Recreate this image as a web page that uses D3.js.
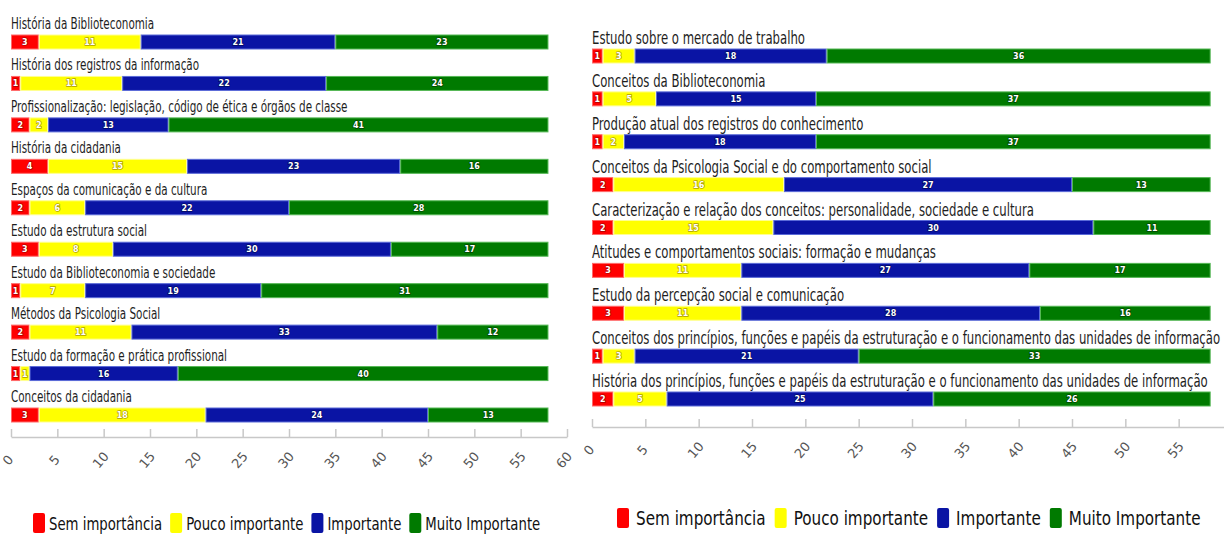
<!DOCTYPE html>
<html>
<head>
<meta charset="utf-8">
<script src="https://cdn.jsdelivr.net/npm/d3@7/dist/d3.min.js"></script>
<style>
  html, body { margin: 0; padding: 0; background: #ffffff; }
  svg { display: block; }
  .cat { font-family: "DejaVu Sans Condensed", "DejaVu Sans", sans-serif; font-stretch: condensed; fill: #1e1e1e; }
  .tick text { font-family: "DejaVu Sans", sans-serif; fill: #555; }
  .lbl { font-family: "DejaVu Sans", sans-serif; font-weight: bold; fill: #fff; paint-order: stroke; stroke-width: 1.4px; }
  .leg { font-family: "DejaVu Sans Condensed", "DejaVu Sans", sans-serif; font-stretch: condensed; fill: #111; }
</style>
</head>
<body>
<svg id="chart" width="1224" height="536"></svg>
<script>
// Series names and colours
const seriesNames = ["Sem importância", "Pouco importante", "Importante", "Muito Importante"];
const seriesColors = ["#ff0000", "#ffff00", "#0a14a4", "#007a00"];
const seriesEdges  = ["#ff6a6a", "#ffff90", "#5a6ad8", "#55b855"];
const seriesOutline = ["#b00000", "#b0a000", "#000a60", "#004400"];

// Left panel
const leftCategories = [
  "História da Biblioteconomia",
  "História dos registros da informação",
  "Profissionalização: legislação, código de ética e órgãos de classe",
  "História da cidadania",
  "Espaços da comunicação e da cultura",
  "Estudo da estrutura social",
  "Estudo da Biblioteconomia e sociedade",
  "Métodos da Psicologia Social",
  "Estudo da formação e prática profissional",
  "Conceitos da cidadania"
];
const leftSem   = [3, 1, 2, 4, 2, 3, 1, 2, 1, 3];
const leftPouco = [11, 11, 2, 15, 6, 8, 7, 11, 1, 18];
const leftImp   = [21, 22, 13, 23, 22, 30, 19, 33, 16, 24];
const leftMuito = [23, 24, 41, 16, 28, 17, 31, 12, 40, 13];
const leftTicks = [0, 5, 10, 15, 20, 25, 30, 35, 40, 45, 50, 55, 60];

// Right panel
const rightCategories = [
  "Estudo sobre o mercado de trabalho",
  "Conceitos da Biblioteconomia",
  "Produção atual dos registros do conhecimento",
  "Conceitos da Psicologia Social e do comportamento social",
  "Caracterização e relação dos conceitos: personalidade, sociedade e cultura",
  "Atitudes e comportamentos sociais: formação e mudanças",
  "Estudo da percepção social e comunicação",
  "Conceitos dos princípios, funções e papéis da estruturação e o funcionamento das unidades de informação",
  "História dos princípios, funções e papéis da estruturação e o funcionamento das unidades de informação"
];
const rightSem   = [1, 1, 1, 2, 2, 3, 3, 1, 2];
const rightPouco = [3, 5, 2, 16, 15, 11, 11, 3, 5];
const rightImp   = [18, 15, 18, 27, 30, 27, 28, 21, 25];
const rightMuito = [36, 37, 37, 13, 11, 17, 16, 33, 26];
const rightTicks = [0, 5, 10, 15, 20, 25, 30, 35, 40, 45, 50, 55];

const svg = d3.select("#chart");

function drawPanel(cfg) {
  const g = svg.append("g");
  const x = d3.scaleLinear().domain([0, 60]).range([cfg.x0, cfg.x1]);
  const y = d3.scalePoint().domain(cfg.categories).range([cfg.yTop, cfg.yBottom]);
  const barH = 14;

  const rows = cfg.categories.map((c, i) => ({
    cat: c,
    vals: [cfg.sem[i], cfg.pouco[i], cfg.imp[i], cfg.muito[i]]
  }));

  const stack = d3.stack().keys([0, 1, 2, 3]).value((d, k) => d.vals[k]);
  const layers = stack(rows);

  // category titles (condensed horizontally)
  g.selectAll("text.cat").data(rows).join("text")
    .attr("class", "cat")
    .attr("transform", d => `translate(${cfg.x0},${y(d.cat) - cfg.titleOffset}) scale(${cfg.titleSqueeze},1)`)
    .attr("font-size", cfg.titleSize)
    .text(d => d.cat);

  // stacked segments
  layers.forEach((layer, k) => {
    const lg = g.append("g");
    lg.selectAll("rect").data(layer).join("rect")
      .attr("x", d => x(d[0]) + 0.5)
      .attr("y", d => y(d.data.cat) - barH / 2)
      .attr("width", d => Math.max(0, x(d[1]) - x(d[0]) - 1))
      .attr("height", barH)
      .attr("fill", seriesColors[k])
      .attr("stroke", seriesEdges[k])
      .attr("stroke-width", 1);
    lg.selectAll("text").data(layer).join("text")
      .attr("class", "lbl")
      .attr("x", d => (x(d[0]) + x(d[1])) / 2)
      .attr("y", d => y(d.data.cat) + 3)
      .attr("text-anchor", "middle")
      .attr("font-size", 8)
      .attr("stroke", seriesOutline[k])
      .text(d => d[1] - d[0]);
  });

  // x axis
  const axis = d3.axisBottom(x).tickValues(cfg.ticks).tickSize(8).tickSizeOuter(0);
  const ax = g.append("g").attr("transform", `translate(0,${cfg.axisY})`).call(axis);
  ax.select(".domain").attr("stroke", "#c8c8c8").attr("stroke-width", 1.5);
  ax.selectAll(".tick line").attr("stroke", "#c8c8c8").attr("stroke-width", 1.5).attr("transform", "translate(0,-8)");
  ax.selectAll(".tick text")
    .attr("font-size", 13)
    .attr("text-anchor", "middle")
    .attr("y", 0)
    .attr("dy", 0)
    .attr("transform", "translate(0,26) rotate(-50)");

  // legend
  const leg = g.append("g").attr("transform", `translate(0,${cfg.legendY})`);
  let lx = cfg.legendX;
  seriesNames.forEach((name, k) => {
    leg.append("rect")
      .attr("x", lx).attr("y", -10)
      .attr("width", 12).attr("height", 20)
      .attr("rx", 2)
      .attr("fill", seriesColors[k]);
    const t = leg.append("text")
      .attr("class", "leg")
      .attr("transform", `translate(${lx + cfg.legendPad},7) scale(${cfg.legendSqueeze},1)`)
      .attr("font-size", cfg.legendSize)
      .text(name);
    lx += cfg.legendPad + t.node().getComputedTextLength() * cfg.legendSqueeze + cfg.legendGap;
  });
}

drawPanel({
  categories: leftCategories, sem: leftSem, pouco: leftPouco, imp: leftImp, muito: leftMuito,
  ticks: leftTicks,
  x0: 11, x1: 567, yTop: 42, yBottom: 415,
  titleSize: 15, titleOffset: 13, titleSqueeze: 0.77,
  axisY: 437, legendY: 523, legendX: 33, legendSize: 18, legendSqueeze: 0.82, legendPad: 16, legendGap: 8
});

drawPanel({
  categories: rightCategories, sem: rightSem, pouco: rightPouco, imp: rightImp, muito: rightMuito,
  ticks: rightTicks,
  x0: 592, x1: 1232, yTop: 56, yBottom: 399,
  titleSize: 17, titleOffset: 12, titleSqueeze: 0.765,
  axisY: 427, legendY: 518, legendX: 617, legendSize: 19, legendSqueeze: 0.89, legendPad: 19, legendGap: 9
});
</script>
</body>
</html>
